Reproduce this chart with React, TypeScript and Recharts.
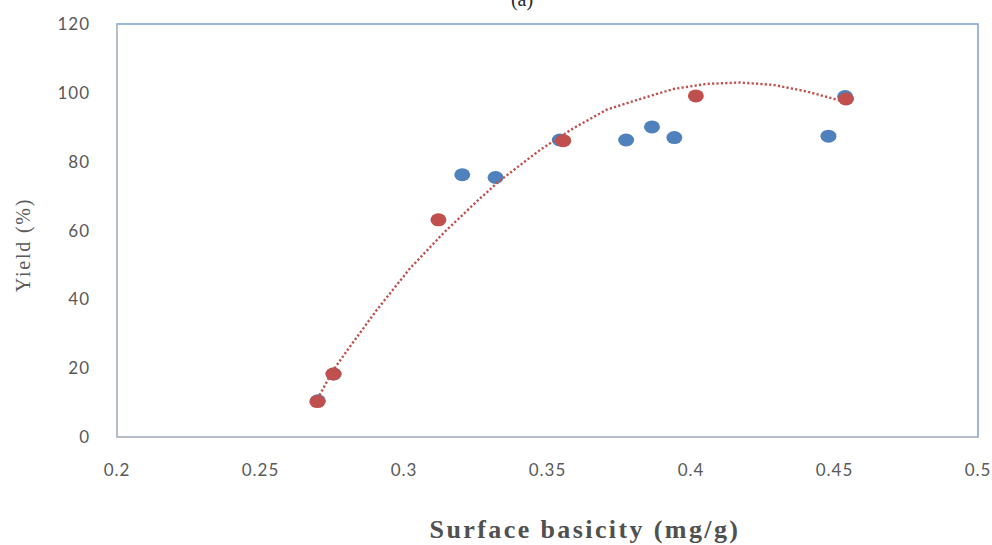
import React from 'react';
import { ScatterChart, Scatter, XAxis, YAxis, ReferenceArea } from 'recharts';

const xTicks = [0.2, 0.25, 0.3, 0.35, 0.4, 0.45, 0.5];
const yTicks = [0, 20, 40, 60, 80, 100, 120];

const blueX = [0.27, 0.2755, 0.3203, 0.3319, 0.3543, 0.3774, 0.3864, 0.3942, 0.4479, 0.4537];
const blueY = [10.5, 18.3, 76.2, 75.4, 86.3, 86.3, 90.1, 87.0, 87.4, 98.9];

const redX = [0.2698, 0.2754, 0.312, 0.3555, 0.4017, 0.454];
const redY = [10.3, 18.3, 63.1, 86.1, 99.1, 98.2];

const trendX = [0.2698, 0.2754, 0.2812, 0.2905, 0.3021, 0.3137, 0.3253, 0.3334, 0.3474, 0.359, 0.3706, 0.3822, 0.3938, 0.4054, 0.4171, 0.4287, 0.4403, 0.4531, 0.4545];
const trendY = [11.0, 19.5, 26.3, 36.9, 49.0, 59.2, 68.4, 74.5, 83.4, 89.7, 95.1, 98.2, 101.1, 102.6, 103.0, 102.3, 100.4, 97.5, 97.0];

const blueData = blueX.map((x, i) => ({ x, y: blueY[i] }));
const redData = redX.map((x, i) => ({ x, y: redY[i] }));
const trendData = trendX.map((x, i) => ({ x, y: trendY[i] }));

const BLUE = '#4F81BD';
const RED = '#C0504D';

const makeEllipse = (fill: string) => (p: any) => (
  <ellipse cx={p.cx} cy={p.cy} rx={8} ry={6.5} fill={fill} />
);

const tickStyle = { fontFamily: 'Lato, "Open Sans", sans-serif', fontSize: 17, letterSpacing: 1, fill: '#595959' };

export default function App() {
  return (
    <div style={{ position: 'absolute', left: 0, top: 0, width: 992, height: 545, background: '#fff' }}>
      <ScatterChart width={992} height={545} margin={{ top: 24, right: 14, bottom: 48, left: 57 }}>
        <ReferenceArea x1={0.2} x2={0.5} y1={0} y2={120} fill="none" stroke="#7BA0CF" strokeWidth={1.5} ifOverflow="visible" />
        <XAxis
          type="number"
          dataKey="x"
          domain={[0.2, 0.5]}
          ticks={xTicks}
          height={60}
          tickLine={false}
          tickSize={0}
          tickMargin={27}
          axisLine={{ stroke: '#BFBFBF', strokeWidth: 1.5 }}
          tick={tickStyle}
          allowDataOverflow
        />
        <YAxis
          type="number"
          dataKey="y"
          domain={[0, 120]}
          ticks={yTicks}
          width={60}
          tickLine={false}
          tickSize={0}
          tickMargin={27}
          axisLine={{ stroke: '#BFBFBF', strokeWidth: 1.5 }}
          tick={tickStyle}
          allowDataOverflow
        />
        <Scatter data={blueData} shape={makeEllipse(BLUE)} isAnimationActive={false} />
        <Scatter data={redData} shape={makeEllipse(RED)} isAnimationActive={false} />
        <Scatter
          data={trendData}
          line={{ stroke: RED, strokeWidth: 2.4, strokeDasharray: '2.2 2.2' }}
          lineType="joint"
          shape={() => <g />}
          isAnimationActive={false}
        />
      </ScatterChart>
      <svg width={992} height={545} style={{ position: 'absolute', left: 0, top: 0, pointerEvents: 'none' }}>
        <text x={522} y={6} textAnchor="middle" fontFamily='"Liberation Serif", "DejaVu Serif", serif' fontSize={20} fill="#262626">(a)</text>
        <text
          x={0}
          y={0}
          transform="translate(30,245) rotate(-90)"
          textAnchor="middle"
          fontFamily='"Liberation Serif", serif'
          fontSize={20}
          letterSpacing={1.8}
          fill="#595959"
        >
          Yield (%)
        </text>
        <text
          x={585}
          y={538}
          textAnchor="middle"
          fontFamily='"Liberation Serif", serif'
          fontSize={26}
          fontWeight="bold"
          letterSpacing={2.4}
          fill="#505050"
        >
          Surface basicity (mg/g)
        </text>
      </svg>
    </div>
  );
}
